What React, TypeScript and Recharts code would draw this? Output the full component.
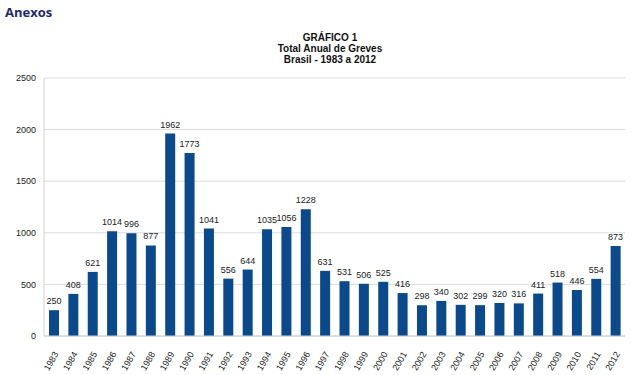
import { BarChart, Bar, XAxis, YAxis, CartesianGrid, LabelList } from 'recharts';

const years = [
  '1983', '1984', '1985', '1986', '1987', '1988', '1989', '1990', '1991', '1992',
  '1993', '1994', '1995', '1996', '1997', '1998', '1999', '2000', '2001', '2002',
  '2003', '2004', '2005', '2006', '2007', '2008', '2009', '2010', '2011', '2012',
];
const greves = [
  250, 408, 621, 1014, 996, 877, 1962, 1773, 1041, 556,
  644, 1035, 1056, 1228, 631, 531, 506, 525, 416, 298,
  340, 302, 299, 320, 316, 411, 518, 446, 554, 873,
];
const yTicks = [0, 500, 1000, 1500, 2000, 2500];

const data = years.map((y, i) => ({ year: y, value: greves[i] }));

const font = 'Liberation Sans, Arial, sans-serif';

function YearTick(props: any) {
  const { x, y, payload } = props;
  return (
    <text
      x={x + 5}
      y={y + 10}
      transform={`rotate(-60, ${x + 5}, ${y + 10})`}
      textAnchor="end"
      fontSize={9}
      fontFamily={font}
      fill="#222"
    >
      {payload.value}
    </text>
  );
}

export default function App() {
  return (
    <div style={{ position: 'absolute', left: 0, top: 0, width: 640, height: 375, background: '#fff', fontFamily: font }}>
      <div style={{ position: 'absolute', left: 5, top: 3, fontSize: 13, fontWeight: 'bold', color: '#1d2a6e', fontFamily: 'Open Sans, sans-serif' }}>
        Anexos
      </div>
      <div style={{ position: 'absolute', left: 0, width: 660, top: 32, textAlign: 'center', fontSize: 10, fontWeight: 'bold', lineHeight: '11px', color: '#111' }}>
        <div>GRÁFICO 1</div>
        <div>Total Anual de Greves</div>
        <div>Brasil - 1983 a 2012</div>
      </div>
      <BarChart
        width={640}
        height={375}
        data={data}
        margin={{ top: 78, right: 15, bottom: 9, left: 0 }}
      >
        <CartesianGrid vertical={false} stroke="#dcdcdc" />
        <XAxis
          dataKey="year"
          interval={0}
          height={30}
          tick={<YearTick />}
          tickLine={false}
          axisLine={{ stroke: '#d0d0d0' }}
        />
        <YAxis
          width={44}
          domain={[0, 2500]}
          ticks={yTicks}
          tick={{ fontSize: 9, fill: '#222', fontFamily: font }}
          tickLine={false}
          axisLine={{ stroke: '#d0d0d0' }}
        />
        <Bar dataKey="value" fill="#0a4a8c" barSize={10} isAnimationActive={false}>
          <LabelList dataKey="value" position="top" offset={6} fontSize={9} fill="#222" fontFamily={font} />
        </Bar>
      </BarChart>
    </div>
  );
}
